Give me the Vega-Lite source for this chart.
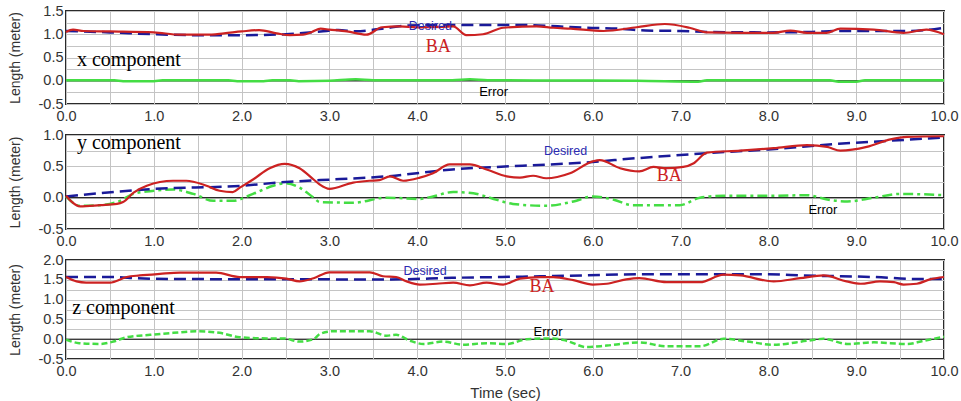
{
  "$schema": "https://vega.github.io/schema/vega-lite/v6.json",
  "background": "white",
  "padding": {"left": 7, "top": 2, "right": 0, "bottom": 0},
  "spacing": 31,
  "bounds": "flush",
  "config": {
    "view": {"stroke": "#2a2a2a", "strokeWidth": 2},
    "axis": {"domain": false, "ticks": false, "tickSize": 0, "gridColor": "#c4c4c4", "gridWidth": 1, "labelFont": "Liberation Sans", "labelFontSize": 14.5, "labelColor": "#333333", "titleFont": "Liberation Sans", "titleFontSize": 14, "titleFontWeight": "normal", "titleColor": "#333333", "labelFlush": false, "labelOverlap": false}
  },
  "datasets": {
    "zero": [{"t": 0, "v": 0}, {"t": 10, "v": 0}],
    "xd": [{"t":0,"v":1.07},{"t":0.5,"v":1.04},{"t":1.0,"v":1.0},{"t":1.5,"v":0.98},{"t":2.0,"v":0.98},{"t":2.5,"v":1.0},{"t":2.9,"v":1.06},{"t":3.1,"v":1.09},{"t":3.3,"v":1.065},{"t":3.6,"v":1.12},{"t":3.9,"v":1.19},{"t":4.5,"v":1.2},{"t":5.2,"v":1.2},{"t":5.6,"v":1.17},{"t":5.9,"v":1.14},{"t":6.3,"v":1.12},{"t":6.6,"v":1.08},{"t":7.0,"v":1.07},{"t":7.3,"v":1.05},{"t":8.0,"v":1.04},{"t":8.5,"v":1.05},{"t":8.8,"v":1.07},{"t":9.2,"v":1.07},{"t":9.6,"v":1.07},{"t":10,"v":1.14}],
    "xb": [{"t":0,"v":1.05},{"t":0.08,"v":1.1},{"t":0.2,"v":1.07},{"t":0.5,"v":1.06},{"t":1.0,"v":1.04},{"t":1.3,"v":0.99},{"t":1.6,"v":0.99},{"t":1.8,"v":1.02},{"t":2.0,"v":1.06},{"t":2.2,"v":1.09},{"t":2.4,"v":1.02},{"t":2.55,"v":0.98},{"t":2.7,"v":0.99},{"t":2.8,"v":1.05},{"t":2.9,"v":1.12},{"t":3.0,"v":1.1},{"t":3.2,"v":1.06},{"t":3.42,"v":0.99},{"t":3.6,"v":1.15},{"t":3.8,"v":1.17},{"t":4.0,"v":1.15},{"t":4.3,"v":1.16},{"t":4.41,"v":1.17},{"t":4.56,"v":0.98},{"t":4.75,"v":1.0},{"t":4.98,"v":1.14},{"t":5.36,"v":1.17},{"t":5.55,"v":1.14},{"t":5.75,"v":1.12},{"t":6.12,"v":1.07},{"t":6.5,"v":1.15},{"t":6.82,"v":1.22},{"t":7.1,"v":1.14},{"t":7.3,"v":1.04},{"t":7.7,"v":1.03},{"t":8.06,"v":1.03},{"t":8.25,"v":1.08},{"t":8.44,"v":1.03},{"t":8.66,"v":1.03},{"t":8.82,"v":1.12},{"t":9.2,"v":1.1},{"t":9.54,"v":1.03},{"t":9.8,"v":1.1},{"t":10,"v":1.0}],
    "xe": [{"t":0,"v":0.01},{"t":0.55,"v":0.01},{"t":0.65,"v":-0.01},{"t":1.0,"v":-0.01},{"t":1.1,"v":0.01},{"t":1.85,"v":0.01},{"t":1.95,"v":-0.01},{"t":2.25,"v":-0.01},{"t":2.35,"v":0.01},{"t":2.55,"v":0.01},{"t":2.65,"v":-0.01},{"t":3.0,"v":0.0},{"t":3.3,"v":0.03},{"t":3.5,"v":0.01},{"t":4.4,"v":0.01},{"t":4.6,"v":0.03},{"t":4.8,"v":0.01},{"t":6.5,"v":0.0},{"t":7.2,"v":-0.02},{"t":7.3,"v":0.01},{"t":8.7,"v":0.01},{"t":8.8,"v":-0.02},{"t":9.0,"v":-0.02},{"t":9.1,"v":0.01},{"t":10,"v":0.01}],
    "yd": [{"t":0,"v":0.02},{"t":1.0,"v":0.14},{"t":2.0,"v":0.19},{"t":2.5,"v":0.25},{"t":2.9,"v":0.28},{"t":3.65,"v":0.34},{"t":4.4,"v":0.45},{"t":5.2,"v":0.51},{"t":5.9,"v":0.56},{"t":6.5,"v":0.63},{"t":7.3,"v":0.71},{"t":8.0,"v":0.77},{"t":8.8,"v":0.86},{"t":9.4,"v":0.91},{"t":10,"v":0.96}],
    "yb": [{"t":0,"v":0.03},{"t":0.06,"v":-0.06},{"t":0.16,"v":-0.14},{"t":0.39,"v":-0.12},{"t":0.58,"v":-0.1},{"t":0.65,"v":-0.07},{"t":0.77,"v":0.08},{"t":0.92,"v":0.19},{"t":1.22,"v":0.27},{"t":1.37,"v":0.27},{"t":1.6,"v":0.19},{"t":1.75,"v":0.11},{"t":1.9,"v":0.09},{"t":1.98,"v":0.16},{"t":2.13,"v":0.29},{"t":2.32,"v":0.47},{"t":2.49,"v":0.54},{"t":2.66,"v":0.47},{"t":2.82,"v":0.29},{"t":2.89,"v":0.21},{"t":3.0,"v":0.14},{"t":3.27,"v":0.24},{"t":3.46,"v":0.27},{"t":3.57,"v":0.28},{"t":3.69,"v":0.34},{"t":3.84,"v":0.27},{"t":4.03,"v":0.32},{"t":4.18,"v":0.39},{"t":4.37,"v":0.53},{"t":4.6,"v":0.53},{"t":4.79,"v":0.45},{"t":5.02,"v":0.34},{"t":5.17,"v":0.32},{"t":5.32,"v":0.35},{"t":5.47,"v":0.31},{"t":5.74,"v":0.39},{"t":6.0,"v":0.58},{"t":6.08,"v":0.6},{"t":6.31,"v":0.47},{"t":6.53,"v":0.42},{"t":6.69,"v":0.49},{"t":6.84,"v":0.47},{"t":7.03,"v":0.49},{"t":7.15,"v":0.55},{"t":7.3,"v":0.72},{"t":7.68,"v":0.75},{"t":8.06,"v":0.79},{"t":8.44,"v":0.84},{"t":8.67,"v":0.81},{"t":8.82,"v":0.75},{"t":9.12,"v":0.81},{"t":9.39,"v":0.93},{"t":9.58,"v":0.97},{"t":10,"v":0.98}],
    "ye": [{"t":0,"v":0.02},{"t":0.16,"v":-0.13},{"t":0.39,"v":-0.12},{"t":0.58,"v":-0.07},{"t":0.77,"v":0.06},{"t":1.0,"v":0.11},{"t":1.22,"v":0.13},{"t":1.45,"v":0.06},{"t":1.68,"v":-0.05},{"t":1.9,"v":-0.05},{"t":2.13,"v":0.06},{"t":2.36,"v":0.19},{"t":2.49,"v":0.23},{"t":2.66,"v":0.16},{"t":2.82,"v":0.0},{"t":2.89,"v":-0.07},{"t":3.27,"v":-0.08},{"t":3.65,"v":0.0},{"t":4.03,"v":-0.02},{"t":4.18,"v":0.02},{"t":4.41,"v":0.09},{"t":4.64,"v":0.07},{"t":4.87,"v":-0.02},{"t":5.09,"v":-0.1},{"t":5.47,"v":-0.13},{"t":5.78,"v":-0.06},{"t":6.0,"v":0.02},{"t":6.23,"v":-0.03},{"t":6.46,"v":-0.12},{"t":6.99,"v":-0.12},{"t":7.22,"v":0.0},{"t":7.49,"v":0.03},{"t":8.06,"v":0.03},{"t":8.44,"v":0.04},{"t":8.67,"v":-0.03},{"t":8.9,"v":-0.06},{"t":9.2,"v":0.0},{"t":9.5,"v":0.06},{"t":10,"v":0.04}],
    "zd": [{"t":0,"v":1.57},{"t":0.55,"v":1.57},{"t":0.8,"v":1.54},{"t":1.2,"v":1.52},{"t":3.7,"v":1.51},{"t":4.4,"v":1.55},{"t":5.2,"v":1.58},{"t":5.9,"v":1.61},{"t":6.5,"v":1.64},{"t":8.0,"v":1.64},{"t":8.4,"v":1.61},{"t":9.2,"v":1.57},{"t":9.7,"v":1.52},{"t":10,"v":1.52}],
    "zb": [{"t":0,"v":1.57},{"t":0.12,"v":1.46},{"t":0.23,"v":1.43},{"t":0.5,"v":1.43},{"t":0.69,"v":1.57},{"t":0.84,"v":1.61},{"t":1.07,"v":1.65},{"t":1.3,"v":1.68},{"t":1.71,"v":1.68},{"t":1.98,"v":1.57},{"t":2.29,"v":1.57},{"t":2.51,"v":1.53},{"t":2.66,"v":1.46},{"t":2.82,"v":1.54},{"t":3.0,"v":1.69},{"t":3.46,"v":1.69},{"t":3.61,"v":1.59},{"t":3.76,"v":1.57},{"t":3.88,"v":1.46},{"t":4.03,"v":1.38},{"t":4.22,"v":1.4},{"t":4.41,"v":1.43},{"t":4.6,"v":1.36},{"t":4.79,"v":1.43},{"t":4.98,"v":1.38},{"t":5.17,"v":1.53},{"t":5.4,"v":1.57},{"t":5.55,"v":1.57},{"t":5.78,"v":1.49},{"t":6.0,"v":1.38},{"t":6.16,"v":1.4},{"t":6.38,"v":1.51},{"t":6.53,"v":1.54},{"t":6.84,"v":1.44},{"t":7.22,"v":1.44},{"t":7.49,"v":1.63},{"t":7.68,"v":1.61},{"t":8.06,"v":1.46},{"t":8.36,"v":1.54},{"t":8.63,"v":1.61},{"t":8.89,"v":1.46},{"t":9.05,"v":1.4},{"t":9.27,"v":1.46},{"t":9.43,"v":1.44},{"t":9.54,"v":1.38},{"t":9.69,"v":1.4},{"t":9.84,"v":1.51},{"t":10,"v":1.57}],
    "ze": [{"t":0,"v":-0.01},{"t":0.15,"v":-0.1},{"t":0.39,"v":-0.12},{"t":0.54,"v":-0.06},{"t":0.69,"v":0.05},{"t":0.96,"v":0.11},{"t":1.22,"v":0.16},{"t":1.49,"v":0.2},{"t":1.75,"v":0.16},{"t":1.98,"v":0.05},{"t":2.29,"v":0.02},{"t":2.48,"v":0.02},{"t":2.66,"v":-0.06},{"t":2.82,"v":0.0},{"t":2.89,"v":0.13},{"t":3.04,"v":0.2},{"t":3.46,"v":0.2},{"t":3.65,"v":0.09},{"t":3.76,"v":0.11},{"t":3.92,"v":-0.04},{"t":4.07,"v":-0.12},{"t":4.3,"v":-0.06},{"t":4.52,"v":-0.14},{"t":4.79,"v":-0.1},{"t":5.02,"v":-0.12},{"t":5.25,"v":0.0},{"t":5.55,"v":0.02},{"t":5.7,"v":-0.04},{"t":5.93,"v":-0.2},{"t":6.16,"v":-0.16},{"t":6.53,"v":-0.08},{"t":6.84,"v":-0.18},{"t":7.22,"v":-0.18},{"t":7.49,"v":0.01},{"t":7.76,"v":-0.06},{"t":8.06,"v":-0.14},{"t":8.44,"v":-0.04},{"t":8.63,"v":0.01},{"t":8.9,"v":-0.12},{"t":9.2,"v":-0.08},{"t":9.58,"v":-0.12},{"t":9.77,"v":-0.04},{"t":10,"v":0.06}]
  },
  "vconcat": [
    {
      "width": 878, "height": 93,
      "encoding": {
        "x": {"field": "t", "type": "quantitative", "scale": {"domain": [0, 10], "nice": false}, "axis": {"title": null, "values": [0,0.5,1,1.5,2,2.5,3,3.5,4,4.5,5,5.5,6,6.5,7,7.5,8,8.5,9,9.5,10], "labelExpr": "datum.value % 1 == 0 ? format(datum.value, '.1f') : ''", "labelPadding": 5}},
        "y": {"field": "v", "type": "quantitative", "scale": {"domain": [-0.5, 1.5], "nice": false}, "axis": {"title": "Length (meter)", "titlePadding": 16, "labelPadding": 3, "values": [-0.5,-0.25,0,0.25,0.5,0.75,1,1.25,1.5], "labelExpr": "(datum.value*2) % 1 == 0 ? replace(format(datum.value, '.1f'), '\u2212', '-') : ''"}}
      },
      "layer": [
        {"data": {"name": "zero"}, "mark": {"type": "line", "color": "#000000", "strokeWidth": 1}},
        {"data": {"name": "xe"}, "mark": {"type": "line", "color": "#44dd44", "strokeWidth": 2.5, "interpolate": "monotone"}},
        {"data": {"name": "xd"}, "mark": {"type": "line", "color": "#1a1a99", "strokeWidth": 2.5, "strokeDash": [12, 6], "interpolate": "monotone"}},
        {"data": {"name": "xb"}, "mark": {"type": "line", "color": "#cc2222", "strokeWidth": 2.2, "interpolate": "monotone"}},
        {"data": {"values": [{"t": 0.125, "v": 0.31, "label": "x component"}]}, "mark": {"type": "text", "font": "Liberation Serif", "fontSize": 20, "color": "#000000", "align": "left", "baseline": "alphabetic"}, "encoding": {"text": {"field": "label"}}},
        {"data": {"values": [{"t": 4.15, "v": 1.17, "label": "Desired"}]}, "mark": {"type": "text", "font": "Liberation Sans", "fontSize": 12.5, "color": "#2a2ab0", "align": "center", "baseline": "middle"}, "encoding": {"text": {"field": "label"}}},
        {"data": {"values": [{"t": 4.24, "v": 0.72, "label": "BA"}]}, "mark": {"type": "text", "font": "Liberation Serif", "fontSize": 18, "color": "#cc2222", "align": "center", "baseline": "middle"}, "encoding": {"text": {"field": "label"}}},
        {"data": {"values": [{"t": 4.87, "v": -0.24, "label": "Error"}]}, "mark": {"type": "text", "font": "Liberation Sans", "fontSize": 13, "color": "#000000", "align": "center", "baseline": "middle"}, "encoding": {"text": {"field": "label"}}}
      ]
    },
    {
      "width": 878, "height": 94,
      "encoding": {
        "x": {"field": "t", "type": "quantitative", "scale": {"domain": [0, 10], "nice": false}, "axis": {"title": null, "values": [0,0.5,1,1.5,2,2.5,3,3.5,4,4.5,5,5.5,6,6.5,7,7.5,8,8.5,9,9.5,10], "labelExpr": "datum.value % 1 == 0 ? format(datum.value, '.1f') : ''", "labelPadding": 5}},
        "y": {"field": "v", "type": "quantitative", "scale": {"domain": [-0.5, 1], "nice": false}, "axis": {"title": "Length (meter)", "titlePadding": 16, "labelPadding": 3, "values": [-0.5,-0.25,0,0.25,0.5,0.75,1], "labelExpr": "(datum.value*2) % 1 == 0 ? replace(format(datum.value, '.1f'), '\u2212', '-') : ''"}}
      },
      "layer": [
        {"data": {"name": "zero"}, "mark": {"type": "line", "color": "#000000", "strokeWidth": 1}},
        {"data": {"name": "ye"}, "mark": {"type": "line", "color": "#44dd44", "strokeWidth": 2.5, "strokeDash": [10, 4, 3, 4], "interpolate": "monotone"}},
        {"data": {"name": "yd"}, "mark": {"type": "line", "color": "#1a1a99", "strokeWidth": 2.5, "strokeDash": [12, 6], "interpolate": "monotone"}},
        {"data": {"name": "yb"}, "mark": {"type": "line", "color": "#cc2222", "strokeWidth": 2.2, "interpolate": "monotone"}},
        {"data": {"values": [{"t": 0.125, "v": 0.77, "label": "y component"}]}, "mark": {"type": "text", "font": "Liberation Serif", "fontSize": 20, "color": "#000000", "align": "left", "baseline": "alphabetic"}, "encoding": {"text": {"field": "label"}}},
        {"data": {"values": [{"t": 5.69, "v": 0.75, "label": "Desired"}]}, "mark": {"type": "text", "font": "Liberation Sans", "fontSize": 12.5, "color": "#2a2ab0", "align": "center", "baseline": "middle"}, "encoding": {"text": {"field": "label"}}},
        {"data": {"values": [{"t": 6.87, "v": 0.34, "label": "BA"}]}, "mark": {"type": "text", "font": "Liberation Serif", "fontSize": 18, "color": "#cc2222", "align": "center", "baseline": "middle"}, "encoding": {"text": {"field": "label"}}},
        {"data": {"values": [{"t": 8.62, "v": -0.2, "label": "Error"}]}, "mark": {"type": "text", "font": "Liberation Sans", "fontSize": 13, "color": "#000000", "align": "center", "baseline": "middle"}, "encoding": {"text": {"field": "label"}}}
      ]
    },
    {
      "width": 878, "height": 99,
      "encoding": {
        "x": {"field": "t", "type": "quantitative", "scale": {"domain": [0, 10], "nice": false}, "axis": {"title": "Time (sec)", "titlePadding": 8, "titleFontSize": 15, "values": [0,0.5,1,1.5,2,2.5,3,3.5,4,4.5,5,5.5,6,6.5,7,7.5,8,8.5,9,9.5,10], "labelExpr": "datum.value % 1 == 0 ? format(datum.value, '.1f') : ''", "labelPadding": 5}},
        "y": {"field": "v", "type": "quantitative", "scale": {"domain": [-0.5, 2], "nice": false}, "axis": {"title": "Length (meter)", "titlePadding": 16, "labelPadding": 3, "values": [-0.5,-0.25,0,0.25,0.5,0.75,1,1.25,1.5,1.75,2], "labelExpr": "(datum.value*2) % 1 == 0 ? replace(format(datum.value, '.1f'), '\u2212', '-') : ''"}}
      },
      "layer": [
        {"data": {"name": "zero"}, "mark": {"type": "line", "color": "#000000", "strokeWidth": 1}},
        {"data": {"name": "ze"}, "mark": {"type": "line", "color": "#44dd44", "strokeWidth": 2.5, "strokeDash": [6, 3], "interpolate": "monotone"}},
        {"data": {"name": "zd"}, "mark": {"type": "line", "color": "#1a1a99", "strokeWidth": 2.5, "strokeDash": [12, 6], "interpolate": "monotone"}},
        {"data": {"name": "zb"}, "mark": {"type": "line", "color": "#cc2222", "strokeWidth": 2.2, "interpolate": "monotone"}},
        {"data": {"values": [{"t": 0.07, "v": 0.63, "label": "z component"}]}, "mark": {"type": "text", "font": "Liberation Serif", "fontSize": 20, "color": "#000000", "align": "left", "baseline": "alphabetic"}, "encoding": {"text": {"field": "label"}}},
        {"data": {"values": [{"t": 4.09, "v": 1.72, "label": "Desired"}]}, "mark": {"type": "text", "font": "Liberation Sans", "fontSize": 12.5, "color": "#2a2ab0", "align": "center", "baseline": "middle"}, "encoding": {"text": {"field": "label"}}},
        {"data": {"values": [{"t": 5.42, "v": 1.32, "label": "BA"}]}, "mark": {"type": "text", "font": "Liberation Serif", "fontSize": 18, "color": "#cc2222", "align": "center", "baseline": "middle"}, "encoding": {"text": {"field": "label"}}},
        {"data": {"values": [{"t": 5.49, "v": 0.18, "label": "Error"}]}, "mark": {"type": "text", "font": "Liberation Sans", "fontSize": 13, "color": "#000000", "align": "center", "baseline": "middle"}, "encoding": {"text": {"field": "label"}}}
      ]
    }
  ]
}
